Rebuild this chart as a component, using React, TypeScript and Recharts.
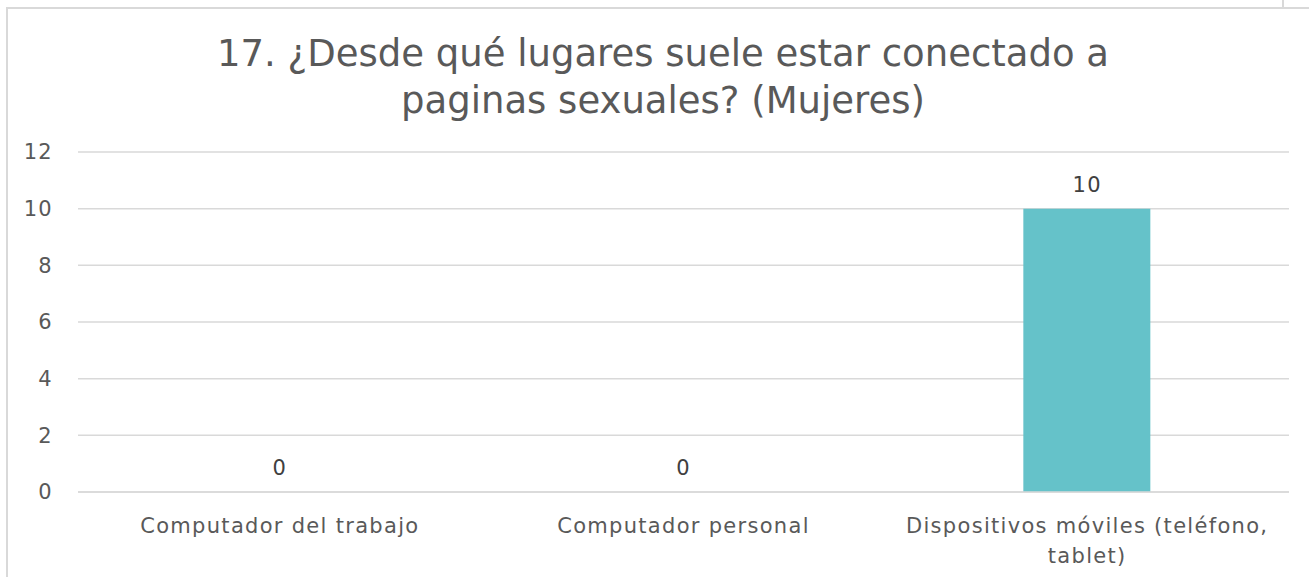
import React from "react";
import { ComposedChart, Bar, Line, XAxis, YAxis, CartesianGrid, LabelList } from "recharts";

const categories = [
  "Computador del trabajo",
  "Computador personal",
  "Dispositivos móviles (teléfono, tablet)",
];
const values = [0, 0, 10];
const yTicks = [0, 2, 4, 6, 8, 10, 12];
const titleLines = [
  "17. ¿Desde qué lugares suele estar conectado a",
  "paginas sexuales? (Mujeres)",
];

const FONT = "'DejaVu Sans', Verdana, sans-serif";
const TEXT = "#595959";
const GRID = "#d9d9d9";

const data = categories.map((name, i) => ({ name, value: values[i] }));

// break long category names into lines of ~32 chars, on spaces
function wrap(s: string, max = 32) {
  const lines: string[] = [];
  let cur = "";
  for (const w of s.split(" ")) {
    const next = cur ? cur + " " + w : w;
    if (next.length > max && cur) {
      lines.push(cur);
      cur = w;
    } else {
      cur = next;
    }
  }
  if (cur) lines.push(cur);
  return lines;
}

const renderCategoryTick = (props: any) => {
  const { x, y, payload } = props;
  return (
    <text
      x={x}
      y={y}
      textAnchor="middle"
      fontSize={21}
      fontFamily={FONT}
      fill={TEXT}
      style={{ letterSpacing: 1.3 }}
    >
      {wrap(String(payload.value)).map((l, i) => (
        <tspan key={i} x={x} dy={i === 0 ? 15 : 30}>
          {l}
        </tspan>
      ))}
    </text>
  );
};

const renderValueLabel = (props: any) => {
  const { x, y, value } = props;
  return (
    <text
      x={x}
      y={Number(y) - 17}
      textAnchor="middle"
      fontSize={21}
      fontFamily={FONT}
      fill="#404040"
      style={{ letterSpacing: 1.3 }}
    >
      {value}
    </text>
  );
};

export default function App() {
  return (
    <div
      style={{
        position: "absolute",
        left: 0,
        top: 0,
        width: 1309,
        height: 577,
        overflow: "hidden",
        background: "#fff",
      }}
    >
      <div
        style={{
          position: "absolute",
          left: 6,
          top: 7,
          width: 1340,
          height: 620,
          border: `2px solid ${GRID}`,
        }}
      />
      <div
        style={{
          position: "absolute",
          left: 1282,
          top: 0,
          width: 2,
          height: 8,
          background: GRID,
        }}
      />
      <div
        style={{
          position: "absolute",
          left: 0,
          top: 30,
          width: 1326,
          textAlign: "center",
          fontFamily: FONT,
          fontSize: 37,
          lineHeight: "47px",
          color: TEXT,
        }}
      >
        {titleLines.map((l) => (
          <div key={l}>{l}</div>
        ))}
      </div>
      <div style={{ position: "absolute", left: 0, top: 0 }}>
        <ComposedChart
          width={1309}
          height={577}
          data={data}
          margin={{ top: 152, right: 20, bottom: 0, left: 0 }}
        >
          <CartesianGrid vertical={false} stroke={GRID} strokeWidth={1.5} />
          <XAxis
            dataKey="name"
            height={85}
            tick={renderCategoryTick}
            axisLine={{ stroke: GRID, strokeWidth: 1.5 }}
            tickLine={false}
            tickSize={0}
            tickMargin={26}
            interval={0}
          />
          <YAxis
            domain={[0, 12]}
            ticks={yTicks}
            width={78}
            axisLine={false}
            tickLine={false}
            tickSize={0}
            tickMargin={25}
            tick={{ fontSize: 21, fontFamily: FONT, fill: TEXT, style: { letterSpacing: 1.3 } }}
          />
          <Bar dataKey="value" fill="#65c2c9" barSize={127} isAnimationActive={false} />
          <Line
            dataKey="value"
            stroke="none"
            dot={false}
            activeDot={false}
            legendType="none"
            isAnimationActive={false}
          >
            <LabelList dataKey="value" content={renderValueLabel} />
          </Line>
        </ComposedChart>
      </div>
    </div>
  );
}
